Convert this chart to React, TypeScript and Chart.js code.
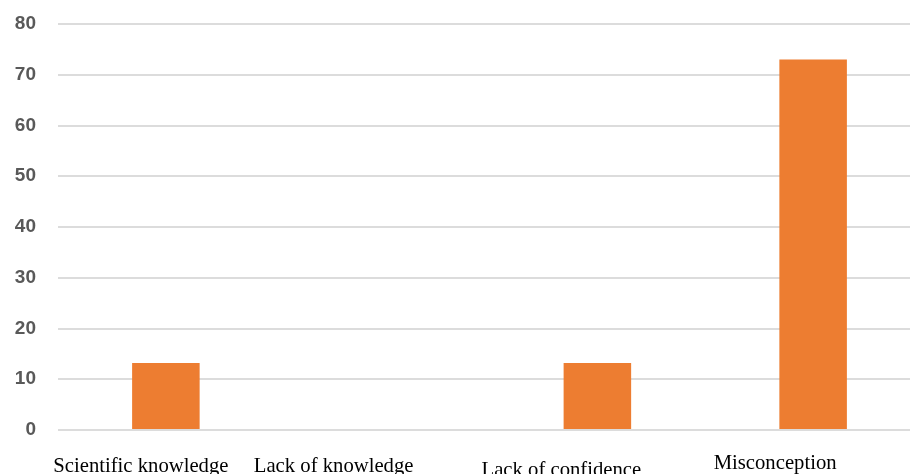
import React, { useEffect, useRef } from "react";
import { Chart, registerables } from "chart.js";

Chart.register(...registerables);

const categories = ["Scientific knowledge", "Lack of knowledge", "Lack of confidence", "Misconception"];
const values = [13.2, 0, 13.2, 73.0];
const yTicks = [0, 10, 20, 30, 40, 50, 60, 70, 80];

// label placement tweaks (style only), relative to category centre / axis bottom
const labelDx = [-25, -48, -36, -38];
const labelBaseline = [472, 472, 476, 469];

const labelPlugin = {
  id: "offsetLabels",
  afterDraw(chart: any) {
    const ctx = chart.ctx;
    const x = chart.scales.x;
    ctx.save();
    ctx.font = '20.7px "Liberation Serif", "Times New Roman", serif';
    ctx.fillStyle = "#000000";
    ctx.textAlign = "center";
    ctx.textBaseline = "alphabetic";
    categories.forEach((c, i) => {
      ctx.fillText(c, x.getPixelForValue(i) + labelDx[i], labelBaseline[i]);
    });
    ctx.restore();
  },
};

export default function App() {
  const ref = useRef<HTMLCanvasElement>(null);
  useEffect(() => {
    if (!ref.current) return;
    const chart = new Chart(ref.current, {
      type: "bar",
      data: {
        labels: categories,
        datasets: [
          {
            data: values,
            backgroundColor: "#ED7D31",
            borderWidth: 0,
            categoryPercentage: 1,
            barPercentage: 0.313,
          },
        ],
      },
      options: {
        animation: false,
        responsive: false,
        devicePixelRatio: 1,
        layout: { padding: { top: 24, right: 4, left: 0, bottom: 0 } },
        plugins: { legend: { display: false }, tooltip: { enabled: false } },
        scales: {
          x: {
            grid: { display: false, drawTicks: false },
            border: { display: false },
            ticks: { display: false },
            afterFit: (s: any) => {
              s.height = 44;
              s.paddingLeft = 0;
              s.paddingRight = 0;
            },
          },
          y: {
            min: 0,
            max: 80,
            afterBuildTicks: (s: any) => {
              s.ticks = yTicks.map((v) => ({ value: v }));
            },
            grid: { color: "#dcdcdc", lineWidth: 2, drawTicks: false },
            border: { display: false },
            ticks: {
              padding: 22,
              color: "#595959",
              font: { family: '"Liberation Sans", Arial, sans-serif', size: 19, weight: "bold" },
            },
            afterFit: (s: any) => {
              s.width = 58;
              s.paddingTop = 0;
              s.paddingBottom = 0;
            },
          },
        },
      },
      plugins: [labelPlugin],
    });
    return () => chart.destroy();
  }, []);
  return (
    <div style={{ position: "absolute", left: 0, top: 0, width: 910, height: 474, overflow: "hidden", background: "#fff" }}>
      <canvas ref={ref} width={925} height={474} style={{ display: "block" }} />
    </div>
  );
}
